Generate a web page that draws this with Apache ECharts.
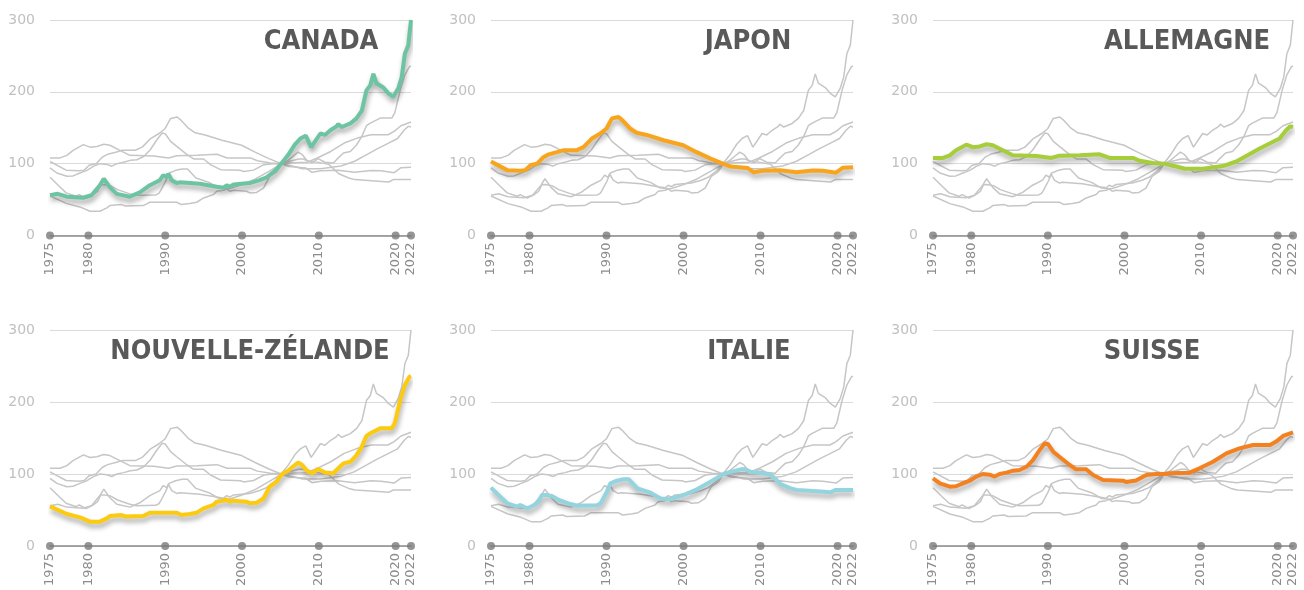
<!DOCTYPE html>
<html>
<head>
<meta charset="utf-8">
<title>Prix des logements</title>
<script src="https://cdn.jsdelivr.net/npm/echarts@6/dist/echarts.min.js"></script>
<style>
  html, body { margin: 0; padding: 0; background: #ffffff; }
  #chart { width: 1304px; height: 590px; }
</style>
</head>
<body>
<div id="chart"></div>
<script>
// Real house price index by country (base 100 around 2005), 1975–2022
const tickYears = [1975, 1980, 1990, 2000, 2010, 2020, 2022];
const yTicks = [0, 100, 200, 300];
const countries = ['CANADA', 'JAPON', 'ALLEMAGNE', 'NOUVELLE-ZÉLANDE', 'ITALIE', 'SUISSE'];

const canada = [[1975,56],[1976,58],[1977.2,54],[1979.3,52.5],[1980.4,56],[1981.5,70],[1982,79],[1982.8,67],[1983.7,58],[1985.4,54],[1986.7,60],[1988,70],[1989.3,77],[1989.75,84],[1990.2,81],[1990.4,86],[1990.85,77],[1991.5,73],[1991.9,74],[1994.5,72],[1996.7,68],[1997.6,66.5],[1998,70],[1998.4,68],[1998.9,71],[2001,73],[2002.3,77],[2003.2,81],[2004.3,90],[2005.1,100],[2006,112],[2006.9,127],[2007.6,135],[2008.3,139],[2009,123],[2010.2,142],[2010.8,140],[2011.5,146.5],[2012.3,152],[2012.5,155],[2013,151],[2014.1,156],[2014.9,163],[2015.6,174],[2016.2,202],[2016.7,209],[2017.1,225],[2017.5,212],[2018.4,206],[2019.05,198],[2019.7,193],[2020.35,205],[2020.8,221],[2021.2,253],[2021.65,265],[2022,300]];

const japon = [[1975,103],[1977.1,91],[1978.8,90],[1979.45,91],[1980.1,97.7],[1981,100],[1981.8,109],[1982.5,113],[1983.55,116],[1984.4,118.6],[1986.1,118.6],[1987,123],[1987.65,130],[1988.1,135],[1989.2,142],[1990,149],[1990.7,163],[1991.55,165],[1992,161],[1993.05,149],[1993.9,143],[1995.2,140],[1997.4,132.6],[1999.95,125.6],[2001.7,116],[2003.5,107],[2005.1,100],[2006.1,96],[2008.3,94],[2009.1,88],[2010.3,90],[2012.5,90.7],[2014.65,88],[2016.8,90.5],[2018.1,90],[2019.8,87.4],[2020.7,94.4],[2022,95]];

const allemagne = [[1975,108],[1976.3,108],[1977.2,111.6],[1978,118.6],[1979.35,126.5],[1980.2,123],[1981.1,124],[1982,127],[1982.8,125.6],[1984.1,118.6],[1985.4,111.6],[1988.5,110.7],[1990.45,108],[1991.5,111],[1994.15,111.6],[1996.75,113],[1998.05,108],[2001.1,108],[2002,104],[2003.7,101],[2005.1,100],[2006.8,96],[2007.85,93],[2010.25,93],[2012.85,96.7],[2014.6,103],[2016.3,113],[2017.65,121],[2018.95,128],[2020.25,135],[2021.1,146.5],[2021.65,152],[2022,151]];

const nouvelleZelande = [[1975,55],[1977.2,44.4],[1978.9,39.8],[1980.2,33.8],[1981.5,33.8],[1982.4,38.4],[1982.8,41.7],[1984.3,43],[1984.8,41],[1987.15,41.7],[1988,46.3],[1991.5,46.3],[1992.1,43],[1993.2,44.4],[1994.1,46.3],[1995,52.3],[1996.3,57],[1996.7,61.6],[1997.6,63],[1998,64.8],[1998.4,61.6],[1998.9,63],[2000.6,61.6],[2001,59.3],[2001.9,60],[2002.8,66],[2003.6,82.4],[2004.5,89],[2005.2,100],[2006,104.6],[2006.6,110],[2007.3,116],[2007.8,113],[2008.4,105],[2009.1,101],[2009.9,107],[2010.8,102],[2011.9,101],[2012.3,105.6],[2013.2,114.8],[2014.1,117],[2014.9,126],[2015.6,138],[2016.2,152.8],[2016.7,156.5],[2018,163.4],[2019.5,163.4],[2019.9,171],[2020.1,172],[2020.6,202.8],[2021.2,223.6],[2021.8,235],[2022,236]];

const italie = [[1975,81],[1976.2,68.5],[1977.1,59.3],[1978.4,54.6],[1978.8,57],[1979.7,52],[1980.55,56.5],[1981.2,61.6],[1981.6,70.8],[1982.05,71],[1982.9,69.4],[1983.8,63.9],[1985.3,58.3],[1986.2,56],[1988.8,56.5],[1989.2,59],[1989.4,62.5],[1990.05,75.5],[1990.5,87],[1991.35,90.7],[1992.2,92.6],[1992.9,92.6],[1993.1,91],[1994,80],[1995.7,74],[1997,66],[1998.3,65],[2000,70.8],[2001.75,78.7],[2003.5,89.4],[2005.2,100],[2006.1,103],[2007.4,106.5],[2008,106.5],[2008.7,103],[2010,101.8],[2011.3,99],[2012.6,86],[2013.9,80],[2014.7,77.8],[2017.3,76],[2019.1,74.5],[2019.7,77.8],[2022,77.8]];

const suisse = [[1975,94],[1975.9,87],[1977.2,82.4],[1978,83],[1978.9,87],[1979.8,90.7],[1980.65,96.3],[1981.5,100],[1982.4,99],[1983.05,96.5],[1983.7,100],[1984.6,101.9],[1985.45,104.6],[1986.3,105.5],[1987.2,110],[1988.05,119.4],[1988.9,133],[1989.6,142.6],[1990,141.7],[1990.7,131],[1991.5,124],[1992.85,112.5],[1993.7,106.5],[1995,106.5],[1995.9,98.6],[1997.2,91.7],[1999.8,90.7],[2000.2,89],[2001.5,91],[2002.85,98.6],[2004.15,100],[2005.2,100],[2005.9,101],[2008.5,101.9],[2009.8,107.9],[2011.55,117],[2013.3,128.7],[2015,135.6],[2016.8,140.3],[2019,140.3],[2019.8,145],[2020.7,152.8],[2022,157.9]];

const seriesData = [canada, japon, allemagne, nouvelleZelande, italie, suisse];

// styling
const highlightColors = ['#6cc4a2', '#f8a51c', '#a6cd3a', '#fcca0e', '#93d4df', '#f3811f'];
const greyLine = '#c6c6c6';

// panel layout: 3 columns x 2 rows
const colLeft = [50, 491, 933];
const colWidth = [361, 362, 360];
const rowTop = [20, 330];
const rowHeight = [215.5, 216];
const titlePos = [[321, 42], [748, 42], [1187, 42], [250, 352], [749, 352], [1152, 352]];

const grids = [], xAxes = [], yAxes = [], series = [], graphics = [];

countries.forEach((name, i) => {
  const col = i % 3, row = Math.floor(i / 3);
  grids.push({ left: colLeft[col], top: rowTop[row], width: colWidth[col], height: rowHeight[row], containLabel: false });

  xAxes.push({
    type: 'value', gridIndex: i, min: tickYears[0], max: tickYears[tickYears.length - 1],
    axisLine: { show: true, onZero: false, lineStyle: { color: '#8a8a8a', width: 1.5 } },
    axisTick: { show: false, customValues: tickYears },
    axisLabel: {
      customValues: tickYears, rotate: 90, margin: 7,
      color: '#8c8c8c', fontSize: 13, fontFamily: 'DejaVu Sans',
      formatter: v => String(v)
    },
    splitLine: { show: false }
  });

  yAxes.push({
    type: 'value', gridIndex: i, min: yTicks[0], max: yTicks[yTicks.length - 1], interval: 100,
    axisLine: { show: false }, axisTick: { show: false },
    axisLabel: { color: '#c0c0c0', fontSize: 14, margin: 15, fontFamily: 'DejaVu Sans' },
    splitLine: { show: true, lineStyle: { color: '#dadada', width: 1 } }
  });

  // every country in grey as background
  seriesData.forEach((d, k) => {
    series.push({
      type: 'line', xAxisIndex: i, yAxisIndex: i, data: d,
      symbol: 'none', silent: true, z: 2,
      lineStyle: { color: greyLine, width: 1.5 }
    });
  });

  // the panel's country, highlighted
  series.push({
    type: 'line', xAxisIndex: i, yAxisIndex: i, data: seriesData[i],
    symbol: 'none', z: 4,
    lineStyle: {
      color: highlightColors[i], width: 4,
      shadowColor: 'rgba(0,0,0,0.35)', shadowBlur: 5, shadowOffsetX: 1, shadowOffsetY: 4
    }
  });

  // round markers on the year axis
  series.push({
    type: 'scatter', xAxisIndex: i, yAxisIndex: i,
    data: tickYears.map(y => [y, 0]),
    symbol: 'circle', symbolSize: 8, clip: false, z: 5, silent: true,
    itemStyle: { color: '#7b7b7b' }
  });

  graphics.push({
    type: 'text', x: titlePos[i][0], y: titlePos[i][1], z: 10,
    style: {
      text: name, align: 'center', verticalAlign: 'middle',
      font: 'bold 27px "DejaVu Sans Condensed", "DejaVu Sans"',
      fill: '#595959'
    }
  });
});

const chart = echarts.init(document.getElementById('chart'), null, { renderer: 'canvas' });
chart.setOption({
  animation: false,
  backgroundColor: '#ffffff',
  grid: grids,
  xAxis: xAxes,
  yAxis: yAxes,
  series: series,
  graphic: graphics
});
</script>
</body>
</html>
